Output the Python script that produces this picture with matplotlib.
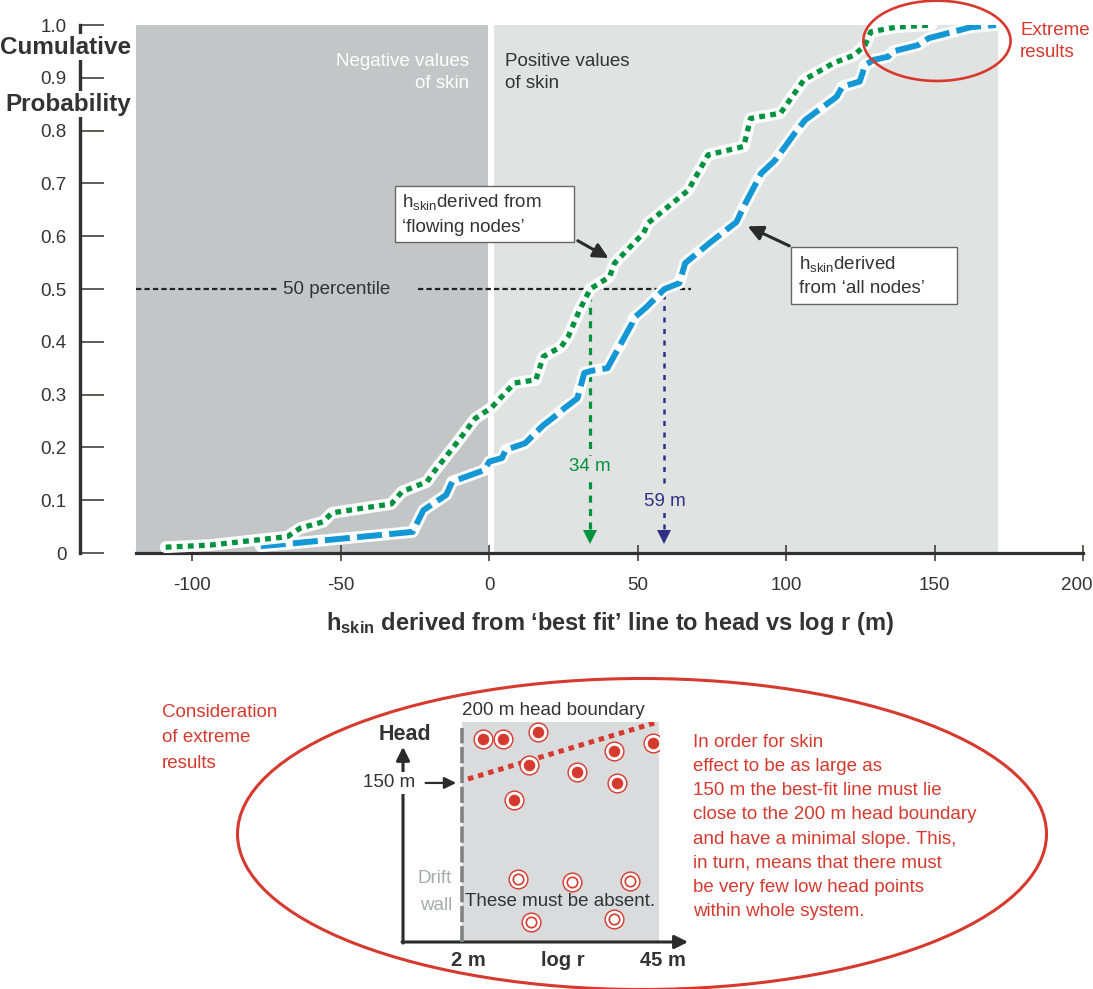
import matplotlib
matplotlib.use('Agg')
import matplotlib.pyplot as plt
from matplotlib.patches import Ellipse, Rectangle
from matplotlib.transforms import ScaledTranslation

plt.rcParams['font.family'] = ['Liberation Sans', 'DejaVu Sans']
plt.rcParams['mathtext.fontset'] = 'custom'
plt.rcParams['mathtext.rm'] = 'Liberation Sans'
plt.rcParams['mathtext.it'] = 'Liberation Sans:italic'
plt.rcParams['mathtext.bf'] = 'Liberation Sans:bold'

# cumulative distribution of h_skin, from 'flowing nodes'
flow_x = [-109, -94, -68, -63.7, -56, -53, -33, -29.4, -21, -18.6, -12, -4.7, 0.7, 8.5,
          15.7, 18.2, 24.3, 26.6, 30.4, 34, 40.5, 42.2, 52, 53.5, 67, 73.7, 85.7, 88,
          98.1, 106, 116, 123, 126.6, 128.5, 137, 149]
flow_p = [0.011, 0.015, 0.031, 0.047, 0.059, 0.076, 0.093, 0.116, 0.135, 0.154, 0.201,
          0.255, 0.275, 0.322, 0.328, 0.372, 0.391, 0.41, 0.46, 0.5, 0.523, 0.549, 0.606,
          0.625, 0.687, 0.754, 0.77, 0.823, 0.833, 0.896, 0.928, 0.943, 0.962, 0.987,
          0.996, 1.0]

# cumulative distribution of h_skin, from 'all nodes'
all_x = [-77, -68.6, -25.8, -22.2, -14.5, -12.5, -1.7, 0, 4.3, 5.5, 12.1, 18.2, 21.9,
         25.5, 29.7, 32, 34.4, 39.8, 48.1, 48.7, 53, 59, 64, 66, 74.2, 83.3, 85.7, 91.6,
         96.3, 102.9, 106.4, 117, 118.9, 124.8, 126.6, 129.5, 134.4, 136, 144.5, 148,
         162.3, 170.7]
all_p = [0.013, 0.017, 0.040, 0.081, 0.11, 0.135, 0.157, 0.173, 0.18, 0.195, 0.208,
         0.242, 0.258, 0.275, 0.293, 0.341, 0.345, 0.35, 0.435, 0.445, 0.466, 0.5, 0.511,
         0.549, 0.587, 0.627, 0.656, 0.719, 0.744, 0.795, 0.82, 0.864, 0.883, 0.893,
         0.924, 0.934, 0.94, 0.95, 0.962, 0.975, 0.996, 1.0]

flow_median = 34
all_median = 59

x_ticks = [-100, -50, 0, 50, 100, 150, 200]
x_ticklabels = ['-100', '-50', '0', '50', '100', '150', '200']
y_ticks = [0, 0.1, 0.2, 0.3, 0.4, 0.5, 0.6, 0.7, 0.8, 0.9, 1.0]
y_ticklabels = ['0', '0.1', '0.2', '0.3', '0.4', '0.5', '0.6', '0.7', '0.8', '0.9', '1.0']

# schematic head vs log r plot
high_r = [2.78, 3.85, 6.67, 5.81, 12.4, 22.1, 23.3, 41.5, 4.59]
high_head = [184, 184, 191, 160.7, 154.6, 173.4, 144, 180.4, 128.9]
low_r = [4.88, 11.5, 28.6, 5.96, 22.1]
low_head = [57.5, 54.2, 55.4, 17.9, 20.9]
fit_r = [2.2, 45]
fit_head = [148, 200]

GREEN = '#00923f'
BLUE = '#1497d5'
NAVY = '#2e3084'
RED = '#d63a2f'
DARK = '#333333'
GREY_NEG = '#c4c5c7'
GREY_POS = '#e1e2e2'
FS = 13.5

W, H = 1093, 989
fig = plt.figure(figsize=(W / 100, H / 100), dpi=100)

ax = fig.add_axes([136 / W, 1 - 553 / H, (1083 - 136) / W, (553 - 25) / H])
ax.set_xlim(-119, 200)
ax.set_ylim(0, 1)
ax.patch.set_alpha(0)

ax.axvspan(-119, -0.5, color=GREY_NEG, lw=0, zorder=0)
ax.axvspan(1.7, 171.3, color=GREY_POS, lw=0, zorder=0)

for s in ['top', 'right']:
    ax.spines[s].set_visible(False)
ax.spines['bottom'].set_linewidth(2.3)
ax.spines['bottom'].set_color('#332f2c')
ax.spines['left'].set_linewidth(2.4)
ax.spines['left'].set_color('#332f2c')
ax.spines['left'].set_position(('outward', 40))

ax.set_xticks(x_ticks, x_ticklabels)
ax.set_yticks(y_ticks, y_ticklabels)
ax.tick_params(axis='x', direction='inout', length=12, width=1.1, color='#332f2c',
               labelsize=FS, labelcolor=DARK, pad=11)
ax.tick_params(axis='y', direction='in', length=17, width=1.1, color='#332f2c',
               labelsize=FS, labelcolor=DARK, pad=10)
# keep the last x label inside the figure
last = ax.get_xticklabels()[-1]
last.set_transform(last.get_transform() + ScaledTranslation(-6 / 100, 0, fig.dpi_scale_trans))

ax.set_xlabel(r"$\mathbf{h_{skin}}$ derived from ‘best fit’ line to head vs log r (m)",
              fontsize=17, fontweight='bold', color=DARK, labelpad=12)

fig.text(66 / W, 1 - 47 / H, 'Cumulative', fontsize=17.5, fontweight='bold', color=DARK,
         ha='center', va='center',
         bbox=dict(facecolor='white', edgecolor='none', pad=1))
fig.text(68 / W, 1 - 104 / H, 'Probability', fontsize=17.5, fontweight='bold', color=DARK,
         ha='center', va='center',
         bbox=dict(facecolor='white', edgecolor='none', pad=1))

# 50 percentile guide
ax.hlines(0.5, -119, -71.5, colors='#222222', lw=1.6, linestyles=(0, (2.4, 1.4)), zorder=2)
ax.hlines(0.5, -24, 68, colors='#222222', lw=1.6, linestyles=(0, (2.4, 1.4)), zorder=2)
ax.text(-51.5, 0.5, '50 percentile', fontsize=FS, color=DARK, ha='center', va='center')

# median drop lines
ax.vlines(flow_median, 0.045, 0.5, colors=GREEN, lw=2.3, linestyles=(0, (2.2, 2.0)), zorder=3)
ax.plot(flow_median, 0.03, marker='v', ms=10, color=GREEN, mew=0, zorder=3)
ax.text(flow_median, 0.163, f'{flow_median} m', fontsize=FS, color=GREEN, ha='center',
        va='center', zorder=4, bbox=dict(facecolor=GREY_POS, edgecolor='none', pad=2))
ax.vlines(all_median, 0.045, 0.5, colors=NAVY, lw=1.8, linestyles=(0, (2.0, 2.6)), zorder=3)
ax.plot(all_median, 0.03, marker='v', ms=10, color=NAVY, mew=0, zorder=3)
ax.text(all_median, 0.098, f'{all_median} m', fontsize=FS, color=NAVY, ha='center',
        va='center', zorder=4, bbox=dict(facecolor=GREY_POS, edgecolor='none', pad=2))

# the two distributions, each with a white halo
ax.plot(all_x, all_p, color='white', lw=8.5, solid_joinstyle='round',
        solid_capstyle='round', zorder=5)
ax.plot(all_x, all_p, color=BLUE, lw=4.3, linestyle=(0, (4.2, 1.2)),
        dash_capstyle='butt', zorder=6)
ax.plot(flow_x, flow_p, color='white', lw=8.5, solid_joinstyle='round',
        solid_capstyle='round', zorder=7)
ax.plot(flow_x, flow_p, color=GREEN, lw=3.8, linestyle=(0, (1.1, 1.0)),
        dash_capstyle='butt', zorder=8)

ax.text(-6.7, 0.91, 'Negative values\nof skin', fontsize=FS, color='white', ha='right',
        va='center', linespacing=1.45)
ax.text(5.4, 0.91, 'Positive values\nof skin', fontsize=FS, color=DARK, ha='left',
        va='center', linespacing=1.45)

# label boxes
ax.add_patch(Rectangle((-31.7, 0.589), 60.4, 0.106, facecolor='white',
                       edgecolor='#666666', lw=1.0, zorder=9))
ax.text(-29.5, 0.642, 'h$_{\\mathrm{skin}}$derived from\n‘flowing nodes’', fontsize=FS,
        color=DARK, ha='left', va='center', linespacing=1.5, zorder=10)
ax.annotate('', xy=(41, 0.556), xytext=(29, 0.594),
            arrowprops=dict(arrowstyle='-|>,head_length=0.9,head_width=0.45',
                            color='#2b2b2b', lw=2.2), zorder=10)

ax.add_patch(Rectangle((101.5, 0.4716), 56, 0.108, facecolor='white',
                       edgecolor='#666666', lw=1.0, zorder=9))
ax.text(104.2, 0.5255, 'h$_{\\mathrm{skin}}$derived\nfrom ‘all nodes’', fontsize=FS,
        color=DARK, ha='left', va='center', linespacing=1.45, zorder=10)
ax.annotate('', xy=(86.2, 0.621), xytext=(101.9, 0.5795),
            arrowprops=dict(arrowstyle='-|>,head_length=0.9,head_width=0.45',
                            color='#2b2b2b', lw=2.2), zorder=10)

# extreme results
ax.add_patch(Ellipse((150.8, 0.97), 49.6, 0.152, fill=False, edgecolor=RED, lw=1.9,
                     clip_on=False, zorder=11))
ax.text(178.8, 0.968, 'Extreme\nresults', fontsize=FS, color=RED, ha='left', va='center',
        linespacing=1.4, clip_on=False)

# lower panel: explanation of extreme results
ov = fig.add_axes([0, 0, 1, 1])
ov.set_xlim(0, W)
ov.set_ylim(H, 0)
ov.axis('off')
ov.patch.set_alpha(0)
ov.add_patch(Ellipse((642, 834), 809, 311, fill=False, edgecolor=RED, lw=2.2))
ov.text(162, 738, 'Consideration\nof extreme\nresults', fontsize=FS, color=RED, ha='left',
        va='center', linespacing=1.66)
ov.text(693, 827, 'In order for skin\neffect to be as large as\n150 m the best-fit line must lie\n'
        'close to the 200 m head boundary\nand have a minimal slope. This,\n'
        'in turn, means that there must\nbe very few low head points\nwithin whole system.',
        fontsize=FS, color=RED, ha='left', va='center', linespacing=1.54)

sk = fig.add_axes([462 / W, 1 - 942 / H, 196.6 / W, 220.3 / H])
sk.set_xscale('log')
sk.set_xlim(2, 45)
sk.set_ylim(0, 200)
sk.set_facecolor('#dadbdc')
for s in sk.spines.values():
    s.set_visible(False)
sk.set_xticks([])
sk.set_yticks([])
sk.minorticks_off()

sk.plot(fit_r, fit_head, color=RED, lw=3.6, linestyle=(0, (1.1, 1.0)), zorder=2)
sk.plot(high_r, high_head, 'o', ms=13.5, mfc='white', mec=RED, mew=1.0, zorder=3)
sk.plot(high_r, high_head, 'o', ms=7.5, mfc=RED, mec=RED, mew=0.8, zorder=4)
sk.plot(low_r, low_head, 'o', ms=13.5, mfc='white', mec=RED, mew=1.0, zorder=3)
sk.plot(low_r, low_head, 'o', ms=7.5, mfc='white', mec=RED, mew=1.2, zorder=4)

tr = sk.transAxes
# drift wall
sk.plot([0, 0], [0, 0.971], transform=tr, color='#808285', lw=2.6,
        linestyle=(0, (4.5, 1.0)), clip_on=False, zorder=5)
# schematic axes with arrow heads
sk.annotate('', xy=(-0.30, 0.886), xytext=(-0.30, -0.005), xycoords=tr, textcoords=tr,
            arrowprops=dict(arrowstyle='-|>,head_length=0.8,head_width=0.4',
                            color='#2b2b2b', lw=2.2, shrinkA=0, shrinkB=0))
sk.annotate('', xy=(1.15, 0), xytext=(-0.305, 0), xycoords=tr, textcoords=tr,
            arrowprops=dict(arrowstyle='-|>,head_length=0.8,head_width=0.4',
                            color='#2b2b2b', lw=2.2, shrinkA=0, shrinkB=0))
sk.text(-0.29, 0.94, 'Head', transform=tr, fontsize=15.5, fontweight='bold', color=DARK,
        ha='center', va='center')
sk.text(-0.37, 0.722, '150 m', transform=tr, fontsize=FS, color=DARK, ha='center',
        va='center', bbox=dict(facecolor='white', edgecolor='none', pad=1.5))
sk.annotate('', xy=(-0.03, 0.722), xytext=(-0.185, 0.722), xycoords=tr, textcoords=tr,
            arrowprops=dict(arrowstyle='-|>,head_length=0.7,head_width=0.35',
                            color='#2b2b2b', lw=1.6, shrinkA=0, shrinkB=0))
sk.text(-0.05, 0.227, 'Drift\nwall', transform=tr, fontsize=FS, color='#a7a9ac',
        ha='right', va='center', linespacing=1.8)
sk.text(0.015, 0.186, 'These must be absent.', transform=tr, fontsize=FS, color=DARK,
        ha='left', va='center', zorder=6)
sk.text(0.0, 1.049, '200 m head boundary', transform=tr, fontsize=FS, color=DARK,
        ha='left', va='center')
sk.text(0.03, -0.085, '2 m', transform=tr, fontsize=14.5, fontweight='bold', color=DARK,
        ha='center', va='center')
sk.text(0.514, -0.085, 'log r', transform=tr, fontsize=14.5, fontweight='bold', color=DARK,
        ha='center', va='center')
sk.text(1.02, -0.085, '45 m', transform=tr, fontsize=14.5, fontweight='bold', color=DARK,
        ha='center', va='center')

fig.savefig('out.png', dpi=100)
